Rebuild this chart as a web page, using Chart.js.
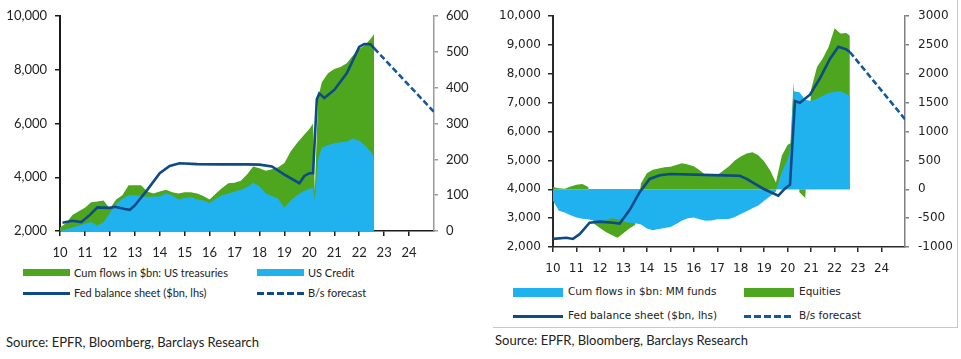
<!DOCTYPE html>
<html lang="en">
<head>
<meta charset="UTF-8" />
<title>Fed balance sheet vs cumulative fund flows</title>
<script src="https://cdn.jsdelivr.net/npm/chart.js@4.4.1/dist/chart.umd.min.js"></script>
<style>
  html, body { margin: 0; padding: 0; background: #fff; }
  body { width: 961px; height: 359px; position: relative; overflow: hidden; }
  canvas { position: absolute; top: 0; }
  #chartL { left: 0; }
  #chartR { left: 480px; }
  .sw { position: absolute; }
  .lg { position: absolute; white-space: nowrap; color: #222; line-height: 14px; }
  .lgL { font: 11px Lato, sans-serif; }
  .lgR { font: 10.5px "DejaVu Sans", sans-serif; }
  .src { position: absolute; white-space: nowrap; color: #222; font: 13px Lato, sans-serif; line-height: 16px; }
  .rule { position: absolute; background: #c8c8c8; }
</style>
</head>
<body>

<canvas id="chartL" width="480" height="262"></canvas>
<canvas id="chartR" width="481" height="285"></canvas>

<!-- left legend -->
<div class="sw" style="left:23px;top:269px;width:47px;height:7px;background:#4ea61e"></div>
<div class="lg lgL" style="left:74px;top:266px">Cum flows in $bn: US treasuries</div>
<div class="sw" style="left:257px;top:269px;width:47px;height:7px;background:#20b2ee"></div>
<div class="lg lgL" style="left:308px;top:266px">US Credit</div>
<div class="sw" style="left:23px;top:292px;width:47px;height:2.5px;background:#0e4a86"></div>
<div class="lg lgL" style="left:74px;top:286px">Fed balance sheet ($bn, lhs)</div>
<div class="sw" style="left:257px;top:292px;width:47px;height:2.5px;background:repeating-linear-gradient(to right,#0e4a86 0 7px,transparent 7px 10px)"></div>
<div class="lg lgL" style="left:308px;top:286px">B/s forecast</div>
<div class="src" style="left:6px;top:334px">Source: EPFR, Bloomberg, Barclays Research</div>

<!-- right legend -->
<div class="sw" style="left:513px;top:288px;width:50px;height:9px;background:#20b2ee"></div>
<div class="lg lgR" style="left:568px;top:285px">Cum flows in $bn: MM funds</div>
<div class="sw" style="left:744px;top:288px;width:50px;height:9px;background:#4ea61e"></div>
<div class="lg lgR" style="left:799px;top:285px">Equities</div>
<div class="sw" style="left:513px;top:315px;width:50px;height:3px;background:#0e4a86"></div>
<div class="lg lgR" style="left:568px;top:309px">Fed balance sheet ($bn, lhs)</div>
<div class="sw" style="left:744px;top:315px;width:50px;height:3px;background:repeating-linear-gradient(to right,#14589c 0 7px,transparent 7px 10px)"></div>
<div class="lg lgR" style="left:799px;top:309px">B/s forecast</div>
<div class="rule" style="left:493px;top:327px;width:465px;height:1px"></div>
<div class="rule" style="left:957px;top:0;width:1px;height:328px"></div>
<div class="src" style="left:495px;top:332px">Source: EPFR, Bloomberg, Barclays Research</div>

<script>
// shared x axis: years 2010..2025, labels two-digit
const yearTicks = [10, 11, 12, 13, 14, 15, 16, 17, 18, 19, 20, 21, 22, 23, 24];
const yearLabels = ["10", "11", "12", "13", "14", "15", "16", "17", "18", "19", "20", "21", "22", "23", "24"];

// ---- left panel: US treasuries / US credit (rhs, $bn) ----
const gridL = [10, 10.25, 10.5, 10.75, 11, 11.25, 11.5, 11.75, 12, 12.25, 12.5, 12.75, 13, 13.25, 13.5, 13.75,
  14, 14.25, 14.5, 14.75, 15, 15.25, 15.5, 15.75, 16, 16.25, 16.5, 16.75, 17, 17.25, 17.5, 17.75,
  18, 18.25, 18.5, 18.75, 19, 19.25, 19.5, 19.75, 20, 20.15, 20.22, 20.35, 20.5, 20.75,
  21, 21.25, 21.5, 21.75, 22, 22.25, 22.5, 22.6];
const usCredit = [0, 5, 10, 15, 20, 25, 15, 25, 50, 75, 90, 100, 100, 98, 95, 96,
  96, 105, 100, 88, 92, 95, 88, 85, 78, 90, 100, 105, 110, 115, 122, 135,
  125, 105, 98, 90, 65, 85, 100, 110, 118, 120, 88, 200, 232, 240,
  245, 248, 250, 258, 252, 238, 218, 205];
const usTreasuries = [10, 17, 35, 40, 45, 55, 67, 60, 12, 13, 10, 28, 28, 30, 15, 9,
  14, 10, 8, 17, 16, 13, 17, 13, 10, 15, 20, 28, 25, 25, 36, 45,
  50, 63, 74, 88, 125, 137, 145, 155, 167, 180, 22, 170, 183, 200,
  207, 210, 218, 232, 256, 282, 322, 345];
const fedXL = [10.1, 10.5, 10.85, 11.2, 11.5, 12, 12.2, 12.6, 12.8, 13, 13.5, 14, 14.4, 14.8, 15.5, 16.5, 17.5,
  18, 18.5, 19, 19.6, 19.8, 20, 20.15, 20.3, 20.4, 20.6, 21, 21.5, 22, 22.2, 22.45, 22.6];
const fedL = [2310, 2380, 2330, 2600, 2880, 2860, 2900, 2820, 2790, 2950, 3530, 4150, 4420, 4520, 4490, 4480, 4480,
  4470, 4400, 4100, 3780, 4050, 4150, 4150, 6900, 7120, 6950, 7250, 7870, 8850, 8960, 8950, 8800];
const fcstXL = [22.6, 25];
const fcstL = [8800, 6430];
const lhsTicksL = [2000, 4000, 6000, 8000, 10000];
const rhsTicksL = [0, 100, 200, 300, 400, 500, 600];

// ---- right panel: MM funds / equities (rhs, $bn) ----
const gridR = [10, 10.25, 10.5, 10.75, 11, 11.25, 11.5, 11.75, 12, 12.25, 12.5, 12.75, 13, 13.25, 13.5, 13.75,
  14, 14.25, 14.5, 14.75, 15, 15.25, 15.5, 15.75, 16, 16.25, 16.5, 16.75, 17, 17.25, 17.5, 17.75,
  18, 18.25, 18.5, 18.75, 19, 19.25, 19.5, 19.75, 20, 20.12, 20.25, 20.5, 20.75,
  21, 21.25, 21.5, 21.75, 22, 22.25, 22.5, 22.65];
const mmFunds = [-200, -370, -400, -450, -490, -510, -520, -545, -550, -540, -500, -520, -560, -580, -590, -610,
  -680, -710, -690, -670, -655, -600, -540, -500, -490, -520, -545, -540, -520, -515, -515, -480,
  -430, -380, -330, -280, -200, -120, -40, 300, 520, 700, 1700, 1680, 1550,
  1530, 1570, 1620, 1670, 1690, 1700, 1650, 1620];
const equities = [40, 20, 10, 50, 80, 90, 40, -50, -120, -200, -290, -320, -200, -100, -30, 100,
  280, 340, 360, 380, 390, 420, 450, 430, 400, 330, 250, 230, 250, 320, 400, 500,
  570, 620, 640, 590, 480, 330, 120, 280, 250, 100, 150, -50, -150,
  200, 550, 650, 800, 1100, 1000, 1060, 1040];
const fedXR = [10, 10.57, 10.85, 11.14, 11.56, 12, 12.56, 12.84, 13.27, 13.7, 14.12, 14.55, 15, 16.8, 17.96,
  18.25, 18.96, 19.6, 19.88, 20.1, 20.31, 20.52, 20.95, 21.37, 21.8, 22.16, 22.5, 22.65];
const fedR = [2280, 2320, 2280, 2450, 2840, 2880, 2840, 2810, 3290, 3910, 4360, 4490, 4530, 4490, 4470,
  4360, 4020, 3780, 4020, 4160, 7060, 7000, 7280, 7840, 8520, 8940, 8850, 8760];
const fcstXR = [22.65, 25];
const fcstR = [8760, 6430];
const lhsTicksR = [2000, 3000, 4000, 5000, 6000, 7000, 8000, 9000, 10000];
const rhsTicksR = [-1000, -500, 0, 500, 1000, 1500, 2000, 2500, 3000];

const navy = "#0e4a86";
const navyDash = "#14589c";
const green = "#4ea61e";
const sky = "#20b2ee";

function pts(xs, ys) { return xs.map((x, i) => ({ x, y: ys[i] })); }
function setTicks(values) { return (scale) => { scale.ticks = values.map((v) => ({ value: v })); }; }

function build(id, o) {
  const font = o.font;
  return new Chart(document.getElementById(id), {
    type: "line",
    data: {
      datasets: [
        { data: pts(o.fedX, o.fed), yAxisID: "y", borderColor: navy, borderWidth: 2.6, pointRadius: 0, fill: false, order: 0 },
        { data: pts(o.fcstX, o.fcst), yAxisID: "y", borderColor: navyDash, borderWidth: 2.6, borderDash: [6, 3], pointRadius: 0, fill: false, order: 0 },
        // blue stacked first, green stacked on top of it (same sign)
        { data: pts(o.gridX, o.blue), yAxisID: "y1", borderColor: "rgba(0,0,0,0)", backgroundColor: sky, pointRadius: 0, fill: "origin", order: 1 },
        { data: pts(o.gridX, o.green), yAxisID: "y1", borderColor: "rgba(0,0,0,0)", backgroundColor: green, pointRadius: 0, fill: "origin", order: 2 },
      ],
    },
    options: {
      responsive: false, animation: false, events: [],
      layout: { padding: { top: o.top, left: 0, right: 0, bottom: 0 } },
      plugins: { legend: { display: false }, tooltip: { enabled: false } },
      scales: {
        x: {
          type: "linear", min: 10, max: 25,
          afterBuildTicks: setTicks(yearTicks),
          afterFit: (s) => { s.height = o.xH; },
          ticks: { callback: (v) => yearLabels[Math.round(v - 10)], color: "#222", font, padding: o.xPad, maxRotation: 0, autoSkip: false },
          grid: { drawOnChartArea: false, tickLength: 5, color: o.axis, lineWidth: 1.5 },
          border: { color: o.axis, width: 1.5 },
        },
        y: {
          position: "left", min: 2000, max: 10000,
          afterBuildTicks: setTicks(o.lhsTicks),
          afterFit: (s) => { s.width = o.yW; },
          ticks: { callback: (v) => v.toLocaleString("en-US"), color: "#222", font, padding: o.yPad },
          grid: { drawOnChartArea: false, tickLength: 5, color: o.axis, lineWidth: 1.5 },
          border: { color: o.axis, width: 2 },
        },
        y1: {
          position: "right", min: o.rhsMin, max: o.rhsMax, stacked: true,
          afterBuildTicks: setTicks(o.rhsTicks),
          afterFit: (s) => { s.width = o.y1W; },
          ticks: { callback: (v) => String(v), color: "#222", font, padding: o.y1Pad },
          grid: { drawOnChartArea: false, tickLength: 4, color: o.axisR, lineWidth: 1.5 },
          border: { color: o.axisR, width: 1.5 },
        },
      },
    },
  });
}

build("chartL", {
  gridX: gridL, blue: usCredit, green: usTreasuries,
  fedX: fedXL, fed: fedL, fcstX: fcstXL, fcst: fcstL,
  lhsTicks: lhsTicksL, rhsTicks: rhsTicksL, rhsMin: 0, rhsMax: 600,
  top: 16, xH: 31, yW: 60, y1W: 46, xPad: 9, yPad: 8, y1Pad: 8,
  axis: "#1a1a1a", axisR: "#9a9a9a",
  font: { family: "Lato", size: 13 },
});

build("chartR", {
  gridX: gridR, blue: mmFunds, green: equities,
  fedX: fedXR, fed: fedR, fcstX: fcstXR, fcst: fcstR,
  lhsTicks: lhsTicksR, rhsTicks: rhsTicksR, rhsMin: -1000, rhsMax: 3000,
  top: 10, xH: 38, yW: 73, y1W: 56, xPad: 10, yPad: 7, y1Pad: 9,
  axis: "#2a2a2a", axisR: "#808080",
  font: { family: "DejaVu Sans", size: 12 },
});
</script>

</body>
</html>
